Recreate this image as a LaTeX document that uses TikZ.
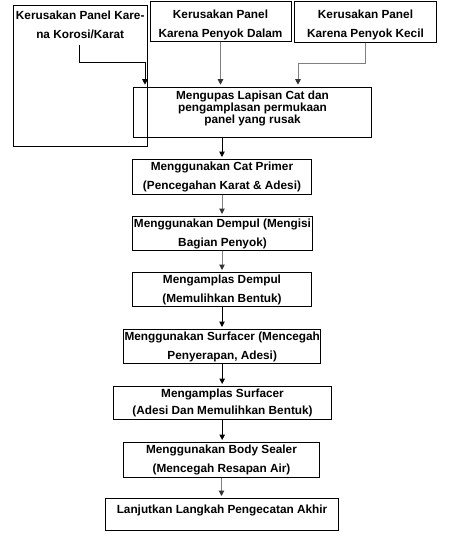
\documentclass[tikz,border=0pt]{standalone}
\usepackage{fontspec}
\setmainfont{Liberation Sans}
\usepackage{tikz}
\usetikzlibrary{arrows.meta, positioning, calc}
\tikzstyle{process} = [rectangle, anchor=north west, inner sep=1pt, text centered, align=center, draw=black, line width=1pt, font=\fontsize{11.8}{19}\selectfont\bfseries]
\tikzstyle{arrow} = [line width=1pt, shorten >=2pt, -{Triangle[width=5.5pt,length=5.5pt]}]
\tikzstyle{grayarrow} = [arrow, draw=black!50, -{Triangle[width=5.5pt,length=5.5pt,color=black!80]}]

\begin{document}
\begin{tikzpicture}[x=1pt, y=-1pt]
    \useasboundingbox (0,0) rectangle (450,541);
    % Nodes
    \node (korosi) [process, minimum width=134pt, text height=32pt, text depth=107pt] at (12.7,5) {Kerusakan Panel Kare-\\na Korosi/Karat};
    \node (dalam) [process, minimum width=141pt, text height=35pt, text depth=2.7pt] at (149.5,1) {Kerusakan Panel\\Karena Penyok Dalam};
    \node (kecil) [process, minimum width=141.4pt, text height=35pt, text depth=3.7pt] at (294.3,1) {Kerusakan Panel\\Karena Penyok Kecil};
    \node (kupas) [process, minimum width=238pt, text height=35pt, text depth=13.3pt, font=\fontsize{11.8}{11}\selectfont\bfseries] at (133,86.7) {Mengupas Lapisan Cat dan\\pengamplasan permukaan\\panel yang rusak};
    \node (primer) [process, minimum width=179pt, minimum height=35pt] at (132,159) {Menggunakan Cat Primer\\(Pencegahan Karat \& Adesi)};
    \node (dempul) [process, minimum width=180pt, minimum height=34pt] at (132,216) {Menggunakan Dempul (Mengisi\\Bagian Penyok)};
    \node (amplasdempul) [process, minimum width=179pt, minimum height=34pt] at (132,272) {Mengamplas Dempul\\(Memulihkan Bentuk)};
    \node (surfacer) [process, minimum width=197pt, minimum height=34pt] at (123,329) {Menggunakan Surfacer (Mencegah\\Penyerapan, Adesi)};
    \node (amplassurf) [process, minimum width=218pt, minimum height=33pt, font=\fontsize{11.8}{17}\selectfont\bfseries] at (113,386) {Mengamplas Surfacer\\(Adesi Dan Memulihkan Bentuk)};
    \node (sealer) [process, minimum width=196pt, minimum height=35pt] at (123,442) {Menggunakan Body Sealer\\(Mencegah Resapan Air)};
    \node (akhir) [process, minimum width=233pt, text height=14.3pt, text depth=15.7pt] at (105,498) {Lanjutkan Langkah Pengecatan Akhir};
    \coordinate (korosiout) at (79,45);

    % Arrows
    \draw [arrow] (korosiout) -- ++(0,17) -| ($(kupas.north west)+(12,0)$);
    \draw [grayarrow] (dalam.south) -- (dalam.south |- kupas.north);
    \draw [grayarrow] (kecil.south) -- ++(0,21) -| ($(kupas.north east)+(-74,0)$);
    \draw [arrow] (kupas.south -| primer.north) -- (primer.north);
    \draw [grayarrow] (primer.south) -- (primer.south |- dempul.north);
    \draw [grayarrow] (dempul.south -| primer.south) -- (primer.south |- amplasdempul.north);
    \draw [arrow] (amplasdempul.south) -- (amplasdempul.south |- surfacer.north);
    \draw [arrow] (surfacer.south) -- (surfacer.south |- amplassurf.north);
    \draw [arrow] (amplassurf.south -| surfacer.south) -- (surfacer.south |- sealer.north);
    \draw [grayarrow] (sealer.south) -- (sealer.south |- akhir.north);
\end{tikzpicture}
\end{document}
